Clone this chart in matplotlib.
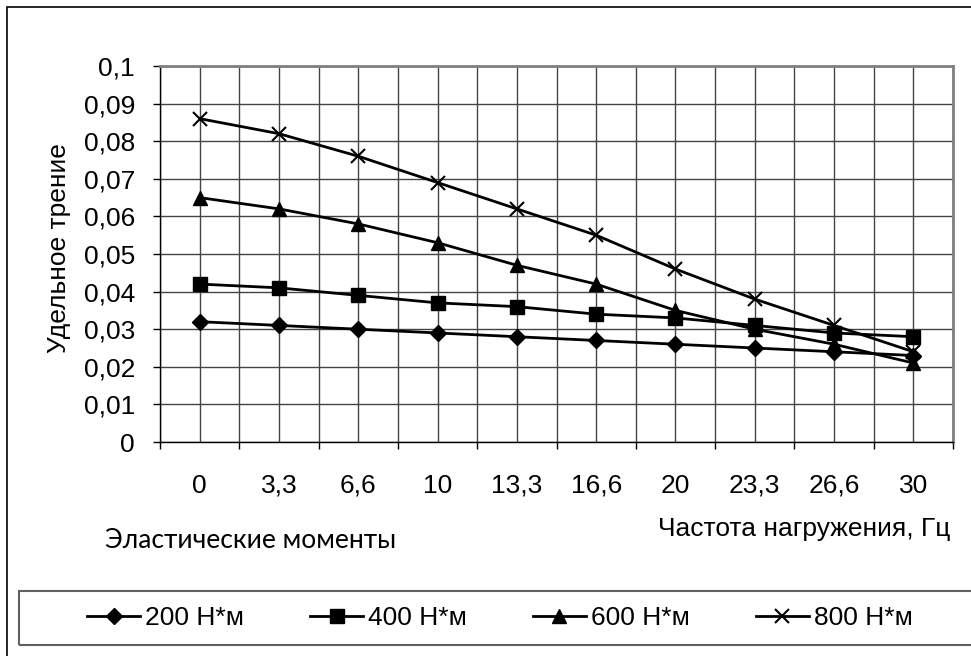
import matplotlib
matplotlib.use("Agg")
import matplotlib.pyplot as plt
from matplotlib.patches import Rectangle
from matplotlib.ticker import FixedLocator

plt.rcParams['font.family'] = ['Liberation Sans', 'DejaVu Sans']

# data
freq_labels = ['0', '3,3', '6,6', '10', '13,3', '16,6', '20', '23,3', '26,6', '30']
s200 = [0.032, 0.031, 0.030, 0.029, 0.028, 0.027, 0.026, 0.025, 0.024, 0.023]
s400 = [0.042, 0.041, 0.039, 0.037, 0.036, 0.034, 0.033, 0.031, 0.029, 0.028]
s600 = [0.065, 0.062, 0.058, 0.053, 0.047, 0.042, 0.035, 0.030, 0.026, 0.021]
s800 = [0.086, 0.082, 0.076, 0.069, 0.062, 0.055, 0.046, 0.038, 0.031, 0.024]
series_names = ['200 Н*м', '400 Н*м', '600 Н*м', '800 Н*м']
y_ticks = [0, 0.01, 0.02, 0.03, 0.04, 0.05, 0.06, 0.07, 0.08, 0.09, 0.1]

W, H = 971, 656
FS = 19
fig = plt.figure(figsize=(W / 100, H / 100), dpi=100)

# plot area in pixels: left 160, right 953, top 66, bottom 442
ax = fig.add_axes([160 / W, 1 - 442 / H, (953 - 160) / W, (442 - 66) / H])

x = list(range(len(freq_labels)))
styles = [
    dict(marker='D', markersize=8.5),
    dict(marker='s', markersize=10),
    dict(marker='^', markersize=10),
    dict(marker='x', markersize=10, markeredgewidth=1.5),
]
for vals, name, st in zip([s200, s400, s600, s800], series_names, styles):
    ax.plot(x, vals, color='black', linewidth=2, label=name, zorder=3, **st)

ax.set_xlim(-0.5, len(freq_labels) - 0.5)
ax.set_ylim(0, 0.1)

# category boundaries get the ticks, centres carry the labels
ax.xaxis.set_major_locator(FixedLocator([i - 0.5 for i in range(len(freq_labels) + 1)]))
ax.xaxis.set_minor_locator(FixedLocator(x))
ax.set_xticklabels([], minor=False)
ax.set_xticklabels(freq_labels, minor=True)
ax.tick_params(axis='x', which='major', direction='out', length=5, width=1, color='black')
ax.tick_params(axis='x', which='minor', length=0, pad=23, labelsize=FS)

ax.set_yticks(y_ticks)
ax.set_yticklabels([('%g' % v).replace('.', ',') for v in y_ticks])
ax.tick_params(axis='y', direction='out', length=5, width=1, pad=13, labelsize=FS)

ax.grid(True, which='both', axis='x', color='#444444', linewidth=1, zorder=1)
ax.grid(True, which='major', axis='y', color='#444444', linewidth=1, zorder=1)
ax.set_axisbelow(True)

for side in ['top', 'right']:
    ax.spines[side].set_color('#808080')
    ax.spines[side].set_linewidth(2)
for side in ['left', 'bottom']:
    ax.spines[side].set_color('black')
    ax.spines[side].set_linewidth(1)

fig.text(59 / W, 1 - 248 / H, 'Удельное трение', rotation=90,
         ha='center', va='center', fontsize=FS)
fig.text(950 / W, 1 - 529 / H, 'Частота нагружения, Гц',
         ha='right', va='center', fontsize=FS)
fig.text(105 / W, 1 - 541 / H, 'Эластические моменты',
         ha='left', va='center', fontsize=FS, family=['Lato', 'DejaVu Sans'])

# outer frame and legend box (both run past the right edge)
fig.patches.append(Rectangle((7 / W, -0.1), 1.1, (H - 7) / H + 0.1, fill=False,
                             edgecolor='black', linewidth=1.2,
                             transform=fig.transFigure))
fig.patches.append(Rectangle((19 / W, 1 - 645 / H), 1.1, 54 / H, fill=False,
                             edgecolor='#606060', linewidth=1.5,
                             transform=fig.transFigure))

fig.legend(loc='center', bbox_to_anchor=(500 / W, 1 - 618 / H), ncol=4,
           frameon=False, fontsize=FS, handlelength=2.0, handletextpad=0.2,
           columnspacing=2.5)

fig.savefig('out.png', dpi=100)
